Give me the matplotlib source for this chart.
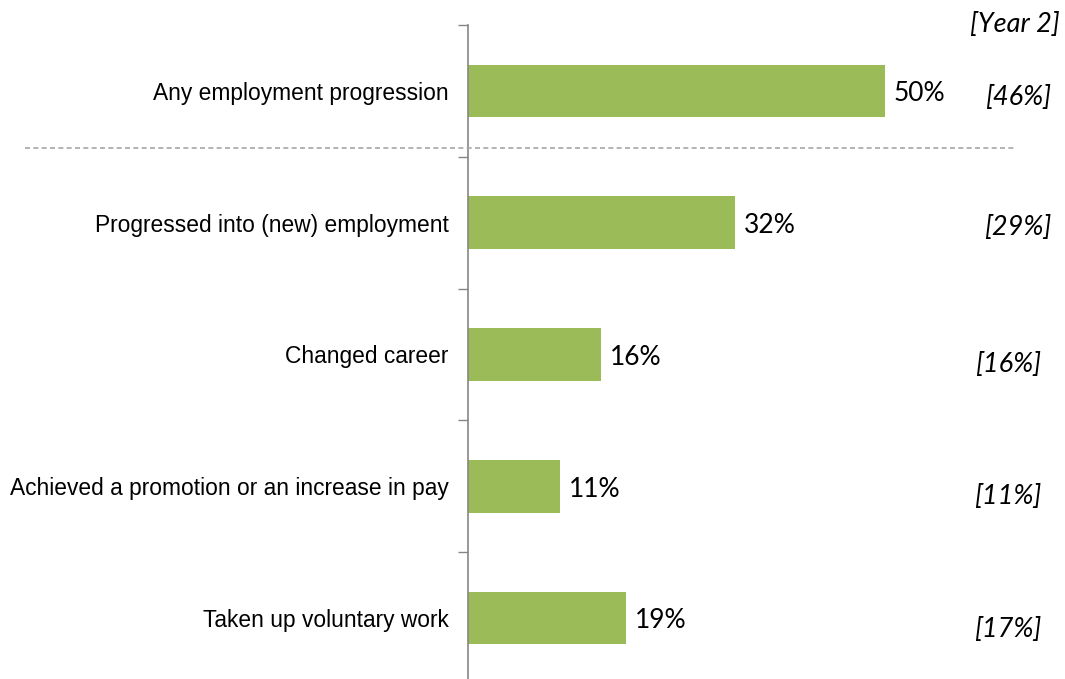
import matplotlib
matplotlib.use("Agg")
import matplotlib.pyplot as plt
from matplotlib.lines import Line2D

# Share of learners reporting each outcome (%), with the Year 2 figures alongside
categories = [
    "Any employment progression",
    "Progressed into (new) employment",
    "Changed career",
    "Achieved a promotion or an increase in pay",
    "Taken up voluntary work",
]
values = [50, 32, 16, 11, 19]
year2_values = [46, 29, 16, 11, 17]

bar_color = "#9BBB59"
axis_color = "#868686"

fig = plt.figure(figsize=(10.65, 6.79), dpi=100)
ax = fig.add_axes([468 / 1065, 1 - 684 / 679, 500 / 1065, 659 / 679])

y = list(range(len(categories)))
ax.barh(y, values, height=0.4, color=bar_color)

ax.set_xlim(0, 60)
ax.set_ylim(len(categories) - 0.5, -0.5)

# category labels on the left, tick marks between categories
ax.set_yticks(y)
ax.set_yticklabels(categories, fontfamily="Liberation Sans", fontsize=16.4)
ax.tick_params(axis="y", which="major", length=0, pad=14)
ax.set_yticks([i - 0.5 for i in y], minor=True)
ax.tick_params(axis="y", which="minor", length=7, width=1, color=axis_color)
ax.set_xticks([])

for side in ["top", "right", "bottom"]:
    ax.spines[side].set_visible(False)
ax.spines["left"].set_color(axis_color)
ax.spines["left"].set_linewidth(1.2)

# value labels next to each bar
for yi, v in zip(y, values):
    ax.annotate(f"{v}%", (v, yi), xytext=(6.5, -2), textcoords="offset points",
                va="center", ha="left", fontfamily="Lato", fontsize=19)

# Year 2 comparison column
year2_x = [1018, 1018, 1008, 1008, 1008]
year2_dy = [5, 3, 8, 8, 10]
for yi, v, px, dy in zip(y, year2_values, year2_x, year2_dy):
    fy = 1 - (25 + 131.75 * (yi + 0.5) + dy + 2) / 679
    fig.text(px / 1065, fy, f"[{v}%]", ha="center", va="center",
             fontfamily="Lato", fontstyle="italic", fontsize=19.5)
fig.text(1060 / 1065, 1 - 24 / 679, "[Year 2]", ha="right", va="center",
         fontfamily="Lato", fontstyle="italic", fontsize=19.5)

# dashed separator under the headline measure
fig.add_artist(Line2D([25 / 1065, 1015 / 1065], [1 - 148 / 679, 1 - 148 / 679],
                      transform=fig.transFigure, color="#A6A6A6",
                      linestyle=(0, (3, 2)), linewidth=1.2))

fig.savefig("out.png", dpi=100)
